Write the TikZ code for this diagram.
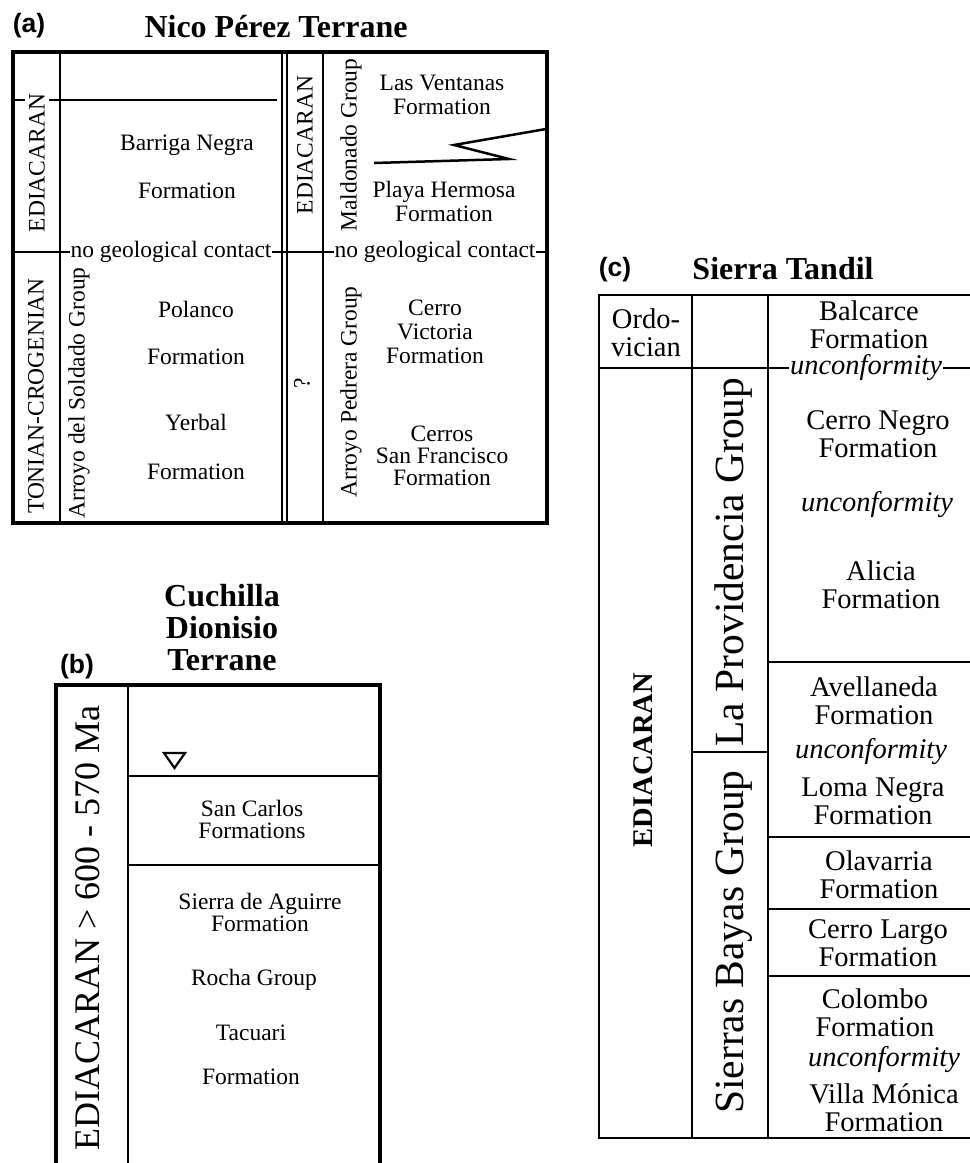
\documentclass[tikz,border=0pt]{standalone}
\usepackage{fontspec}
\setmainfont{Liberation Serif}
\newfontfamily\panelfont{Liberation Sans}

\begin{document}
\begin{tikzpicture}[x=1pt, y=-1pt]
    % Define styles
    \tikzstyle{formation} = [align=center, inner sep=1pt, font=\fontsize{23.5}{24}\selectfont]
    \tikzstyle{formationb} = [align=center, inner sep=1pt, font=\fontsize{23.5}{22}\selectfont]
    \tikzstyle{formationc} = [align=center, inner sep=1pt, font=\fontsize{28.5}{28}\selectfont]
    \tikzstyle{contact} = [formation, fill=white, inner sep=1pt]
    \tikzstyle{unconf} = [formationc, font=\fontsize{28.5}{28}\selectfont\itshape]
    \tikzstyle{era} = [rotate=90, inner sep=1pt, font=\fontsize{23.5}{24}\selectfont]
    \tikzstyle{bigera} = [rotate=90, inner sep=1pt, font=\fontsize{41.5}{42}\selectfont]
    \tikzstyle{headline} = [align=center, inner sep=1pt, font=\fontsize{32}{32}\selectfont\bfseries]
    \tikzstyle{panel} = [inner sep=1pt, font=\panelfont\fontsize{26.5}{27}\selectfont\bfseries]
    \tikzstyle{heavy} = [line width=3.5pt]
    \tikzstyle{rule} = [line width=2.5pt]
    \tikzstyle{crule} = [line width=2pt]

    \useasboundingbox (0,0) rectangle (970,1163);

    % Panel (a): frame and rules
    \draw[heavy] (13,52) rectangle (547,523);
    \draw[rule] (60,52) -- (60,523);
    \draw[line width=2pt] (282,52) -- (282,523);
    \draw[line width=2pt] (287,52) -- (287,523);
    \draw[rule] (323,52) -- (323,523);
    \draw[rule] (13,100) -- (277,100);
    \draw[rule] (13,252) -- (547,252);
    \draw[rule] (374,163) -- (509,159) -- (454,145) -- (546,129);

    % Panel (a): labels
    \node[panel] (labelA) at (29,26) {(a)};
    \node[headline] (titleA) at (276,27) {Nico Pérez Terrane};
    \node[era, fill=white, inner sep=4pt] (ediaA) at (37,163) {EDIACARAN};
    \node[era] (tonian) at (36,396) {TONIAN-CROGENIAN};
    \node[era] (soldado) at (79,393) {Arroyo del Soldado Group};
    \node[formation] (barriga) at (187,167) {Barriga Negra\\[24pt]Formation};
    \node[formation] (polanco) at (196,333) {Polanco\\[23pt]Formation};
    \node[formation] (yerbal) at (196,447) {Yerbal\\[25pt]Formation};
    \node[era] (ediaB) at (305,145) {EDIACARAN};
    \node[era] (unknown) at (302,383) {?};
    \node[era] (maldonado) at (351,145) {Maldonado Group};
    \node[era] (pedrera) at (351,392) {Arroyo Pedrera Group};
    \node[formation] (ventanas) at (442,95) {Las Ventanas\\Formation};
    \node[formation] (hermosa) at (444,201) {Playa Hermosa\\Formation};
    \node[formation] (victoria) at (435,332) {Cerro\\Victoria\\Formation};
    \node[formationb] (francisco) at (442,456) {Cerros\\San Francisco\\Formation};
    \node[contact] (contactA) at (171,252) {no geological contact};
    \node[contact] (contactB) at (435,252) {no geological contact};

    % Panel (b): frame and rules
    \draw[heavy] (56,1163) -- (56,685) -- (380,685) -- (380,1163);
    \draw[rule] (128,685) -- (128,1163);
    \draw[rule] (128,776) -- (380,776);
    \draw[rule] (128,865) -- (380,865);
    \draw[line width=2.2pt, line join=miter] (164,753) -- (185,753) -- (174.5,768) -- cycle;

    % Panel (b): labels
    \node[panel] (labelB) at (77,667) {(b)};
    \node[headline] (titleB) at (222,628) {Cuchilla\\Dionisio\\Terrane};
    \node[era, font=\fontsize{36}{36}\selectfont] (ediaC) at (88,928) {EDIACARAN > 600 - 570 Ma};
    \node[formationb] (sancarlos) at (252,819) {San Carlos\\Formations};
    \node[formationb] (aguirre) at (260,912) {Sierra de Aguirre\\Formation};
    \node[formationb] (rocha) at (254,980) {Rocha Group};
    \node[formationb] (tacuari) at (251,1055) {Tacuari\\[22pt]Formation};

    % Panel (c): frame and rules
    \draw[crule] (970,295) -- (599,295) -- (599,1138) -- (970,1138);
    \draw[crule] (692,295) -- (692,1138);
    \draw[crule] (768,295) -- (768,1138);
    \draw[crule] (599,368) -- (970,368);
    \draw[crule] (692,752) -- (768,752);
    \draw[crule] (768,662) -- (970,662);
    \draw[crule] (768,837) -- (970,837);
    \draw[crule] (768,909) -- (970,909);
    \draw[crule] (768,976) -- (970,976);

    % Panel (c): labels
    \node[panel] (labelC) at (615,270) {(c)};
    \node[headline] (titleC) at (783,269) {Sierra Tandil};
    \node[formationc] (ordo) at (646,333) {Ordo-\\vician};
    \node[era, font=\fontsize{28.5}{28}\selectfont\bfseries] (ediaD) at (643,760) {EDIACARAN};
    \node[bigera] (providencia) at (734,562) {La Providencia Group};
    \node[bigera] (sierras) at (734,942) {Sierras Bayas Group};
    \node[formationc] (balcarce) at (869,325) {Balcarce\\Formation};
    \node[unconf, fill=white] (unconfA) at (866,368) {unconformity};
    \node[formationc] (cerronegro) at (878,434) {Cerro Negro\\Formation};
    \node[unconf] (unconfB) at (877,505) {unconformity};
    \node[formationc] (alicia) at (881,585) {Alicia\\Formation};
    \node[formationc] (avellaneda) at (874,701) {Avellaneda\\Formation};
    \node[unconf] (unconfC) at (871,752) {unconformity};
    \node[formationc] (lomanegra) at (873,801) {Loma Negra\\Formation};
    \node[formationc] (olavarria) at (879,875) {Olavarria\\Formation};
    \node[formationc] (cerrolargo) at (878,943) {Cerro Largo\\Formation};
    \node[formationc] (colombo) at (875,1013) {Colombo\\Formation};
    \node[unconf] (unconfD) at (884,1060) {unconformity};
    \node[formationc] (villamonica) at (884,1108) {Villa Mónica\\Formation};
\end{tikzpicture}
\end{document}
